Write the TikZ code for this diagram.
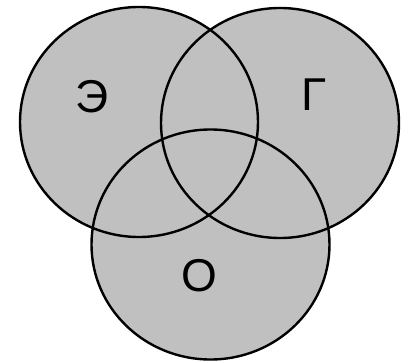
\documentclass[tikz,border=0pt]{standalone}
\usepackage{fontspec}
\setmainfont{Liberation Sans}
\begin{document}
\begin{tikzpicture}[x=1pt,y=-1pt,
  setfill/.style={fill={rgb,255:red,192;green,192;blue,192}},
  setline/.style={draw=black,line width=2.4pt},
  lab/.style={font=\fontsize{46}{46}\selectfont,inner sep=0pt,anchor=center}]
\useasboundingbox (0,0) rectangle (410,362);
\fill[white] (0,0) rectangle (410,362);
\coordinate (E) at (139,122);
\coordinate (G) at (280,123);
\coordinate (O) at (210.5,244.5);
\foreach \c in {E,G,O} \fill[setfill] (\c) ellipse [x radius=119, y radius=115];
\foreach \c in {E,G,O} \draw[setline] (\c) ellipse [x radius=119, y radius=115];
\node[lab] (tE) at (92,97) {Э};
\node[lab] (tG) at (314,95) {Г};
\node[lab] (tO) at (199,276) {О};
\end{tikzpicture}
\end{document}
